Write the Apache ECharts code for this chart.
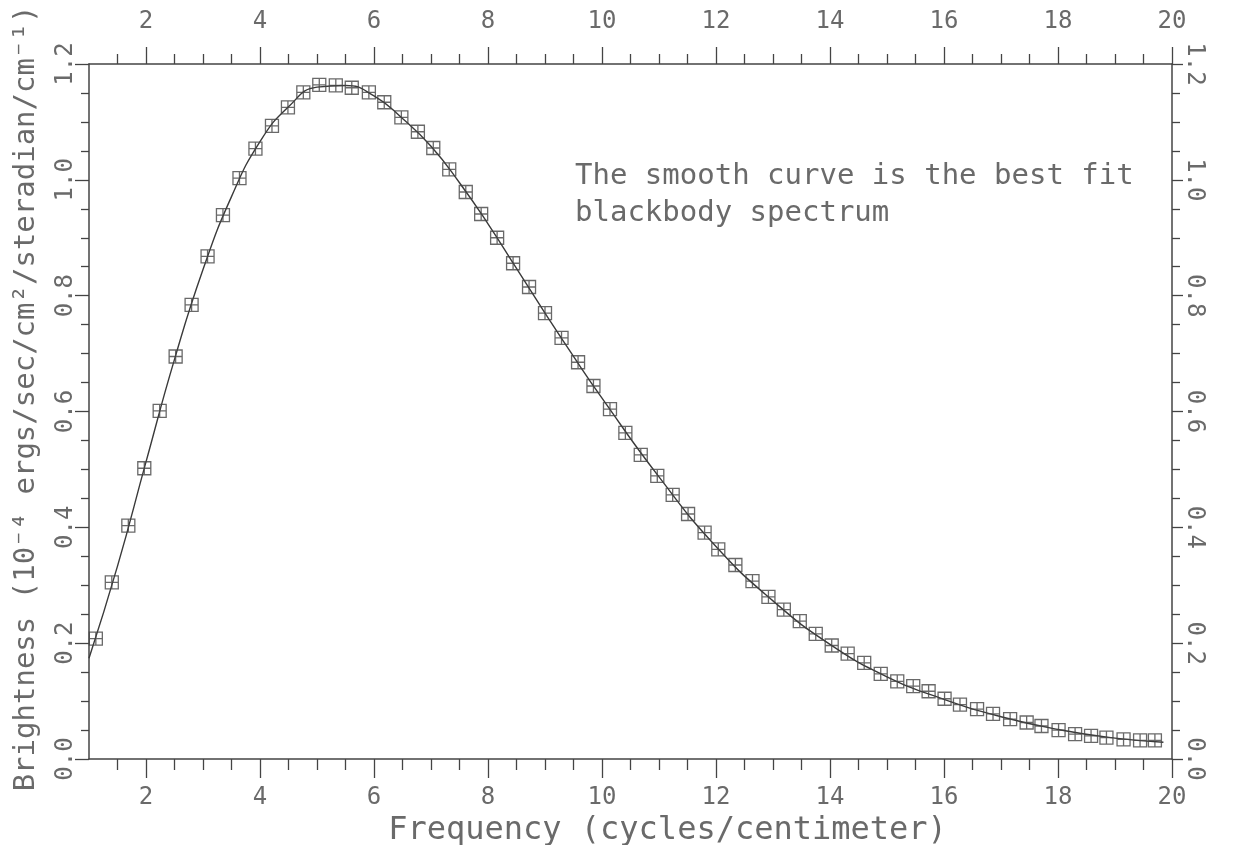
<!DOCTYPE html>
<html>
<head>
<meta charset="utf-8">
<script src="https://cdn.jsdelivr.net/npm/echarts@6/dist/echarts.min.js"></script>
<style>
html,body{margin:0;padding:0;background:#fff;}
#chart{width:1240px;height:845px;}
</style>
</head>
<body>
<div id="chart"></div>
<script>
// Measured spectrum (frequency in cycles/cm, brightness in 1e-4 ergs/sec/cm^2/sr/cm^-1)
const freq = [1.12,1.40,1.69,1.97,2.24,2.52,2.80,3.08,3.35,3.64,3.92,4.21,4.49,4.76,5.04,5.33,5.61,5.91,6.18,6.48,6.77,7.04,7.32,7.61,7.88,8.16,8.44,8.72,9.00,9.29,9.58,9.85,10.14,10.41,10.68,10.97,11.24,11.51,11.80,12.04,12.34,12.64,12.92,13.19,13.47,13.75,14.03,14.31,14.60,14.89,15.18,15.46,15.73,16.01,16.28,16.58,16.86,17.16,17.45,17.71,18.01,18.30,18.58,18.85,19.15,19.44,19.70];
const brightness = [0.208,0.305,0.403,0.502,0.601,0.695,0.784,0.868,0.939,1.003,1.054,1.093,1.125,1.151,1.164,1.163,1.159,1.151,1.134,1.108,1.083,1.055,1.018,0.979,0.941,0.900,0.856,0.815,0.770,0.727,0.685,0.644,0.604,0.563,0.525,0.489,0.456,0.423,0.391,0.362,0.335,0.307,0.280,0.258,0.238,0.216,0.196,0.182,0.166,0.147,0.134,0.126,0.117,0.104,0.094,0.086,0.078,0.069,0.063,0.057,0.050,0.043,0.040,0.037,0.034,0.032,0.032];
// Best-fit blackbody curve
const fitFreq = [1.0,1.5,2.0,2.5,3.0,3.5,4.0,4.5,5.0,5.5,6.0,6.5,7.0,7.5,8.0,8.5,9.0,9.5,10,11,12,13,14,15,16,17,18,19,19.85];
const fitValues = [0.174,0.333,0.513,0.690,0.845,0.971,1.066,1.126,1.160,1.163,1.145,1.106,1.058,0.995,0.924,0.847,0.770,0.695,0.623,0.487,0.367,0.273,0.198,0.142,0.103,0.073,0.051,0.036,0.029];
// Tick labels
const xMajorTicks = [2,4,6,8,10,12,14,16,18,20];
const xMinorTicks = [1.5,2.5,3,3.5,4.5,5,5.5,6.5,7,7.5,8.5,9,9.5,10.5,11,11.5,12.5,13,13.5,14.5,15,15.5,16.5,17,17.5,18.5,19,19.5];
const yMajorTicks = [0,0.2,0.4,0.6,0.8,1.0,1.2];
const yMinorTicks = [0.05,0.1,0.15,0.25,0.3,0.35,0.45,0.5,0.55,0.65,0.7,0.75,0.85,0.9,0.95,1.05,1.1,1.15];
const xTitle = 'Frequency (cycles/centimeter)';
const yTitle = 'Brightness (10⁻⁴ ergs/sec/cm²/steradian/cm⁻¹)';
const note = 'The smooth curve is the best fit\nblackbody spectrum';

const FONT = 'DejaVu Sans Mono';
const INK = '#444444';
const TXT = '#6a6a6a';

function xAx(pos, major, extra) {
  const bottom = pos === 'bottom';
  return Object.assign({
    type: 'value', position: pos, min: 1, max: 20,
    axisLine: {show: major, onZero: false, lineStyle: {color: INK, width: 1.5}},
    axisTick: {show: true, inside: false,
      length: major ? (bottom ? 19 : 17) : (bottom ? 11 : 10),
      customValues: major ? xMajorTicks : xMinorTicks,
      lineStyle: {color: INK, width: 1.3}},
    axisLabel: major ? {show: true, customValues: xMajorTicks, margin: bottom ? 27 : 30,
      fontFamily: FONT, fontSize: 24, color: TXT} : {show: false},
    splitLine: {show: false}
  }, extra || {});
}
function yAx(pos, major, extra) {
  const left = pos === 'left';
  return Object.assign({
    type: 'value', position: pos, min: 0, max: 1.2,
    axisLine: {show: major, onZero: false, lineStyle: {color: INK, width: 1.5}},
    axisTick: {show: true, inside: false, length: major ? (left ? 14 : 11) : 8,
      customValues: major ? yMajorTicks : yMinorTicks,
      lineStyle: {color: INK, width: 1.3}},
    axisLabel: major ? {show: true, customValues: yMajorTicks, margin: left ? 11 : 10,
      rotate: left ? 90 : -90,
      formatter: v => v.toFixed(1),
      fontFamily: FONT, fontSize: 24, color: TXT} : {show: false},
    splitLine: {show: false}
  }, extra || {});
}

const chart = echarts.init(document.getElementById('chart'), null, {renderer: 'canvas'});
chart.setOption({
  backgroundColor: '#ffffff',
  animation: false,
  grid: {left: 89, right: 68, top: 64, bottom: 86, containLabel: false, outerBoundsMode: 'none'},
  xAxis: [
    xAx('bottom', true, {name: xTitle, nameLocation: 'middle', nameGap: 55,
      nameTextStyle: {fontFamily: FONT, fontSize: 32, color: TXT, padding: [0, 0, 0, 74]}}),
    xAx('bottom', false),
    xAx('top', true),
    xAx('top', false)
  ],
  yAxis: [
    yAx('left', true, {name: yTitle, nameLocation: 'middle', nameRotate: 90, nameGap: 48,
      nameTextStyle: {fontFamily: FONT, fontSize: 29, color: TXT, padding: [0, 0, 0, 26]}}),
    yAx('left', false),
    yAx('right', true),
    yAx('right', false)
  ],
  graphic: [{
    type: 'text', left: 575, top: 158,
    style: {text: note, font: '29px "DejaVu Sans Mono"', fill: TXT, lineHeight: 37}
  }],
  series: [
    {
      type: 'line', xAxisIndex: 0, yAxisIndex: 0,
      data: fitFreq.map((f, i) => [f, fitValues[i]]),
      smooth: true, symbol: 'none',
      lineStyle: {color: '#3a3a3a', width: 1.4}, z: 2
    },
    {
      type: 'scatter', xAxisIndex: 0, yAxisIndex: 0,
      data: freq.map((f, i) => [f, brightness[i]]),
      symbol: 'path://M0,0L12,0L12,12L0,12Z M6,0L6,12 M0,6L12,6',
      symbolSize: 13,
      itemStyle: {color: 'rgba(0,0,0,0)', borderColor: '#444', borderWidth: 1.3},
      z: 3
    }
  ]
});
</script>
</body>
</html>
